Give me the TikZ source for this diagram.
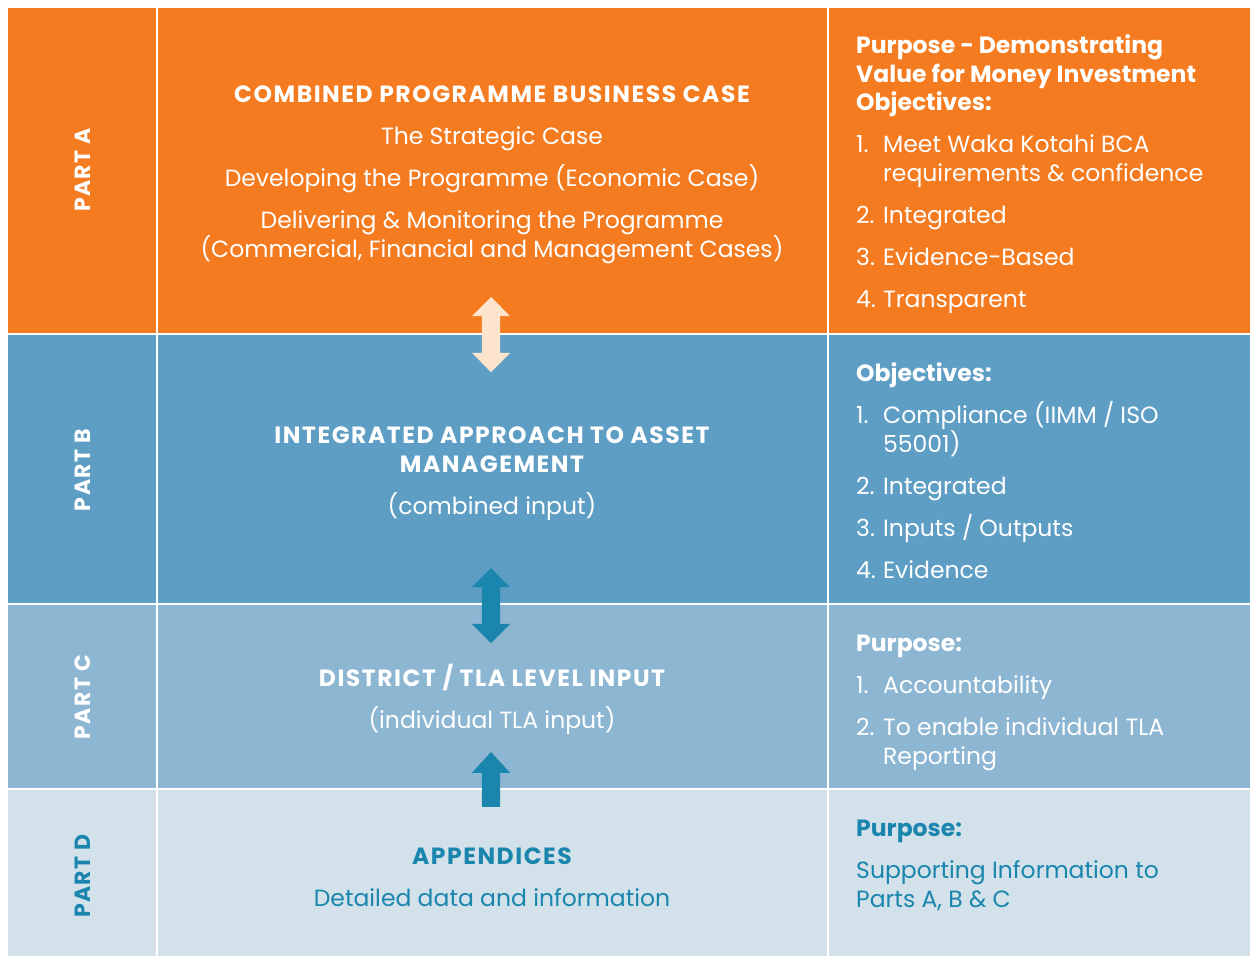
\documentclass[tikz,border=0pt]{standalone}
\usepackage{fontspec}
\setmainfont{Poppins}
\newfontfamily\headfont{Poppins}[LetterSpace=6.5]
\usetikzlibrary{shapes.arrows}
\definecolor{caseorange}{HTML}{F47B20}
\definecolor{partbblue}{HTML}{5E9EC4}
\definecolor{partcblue}{HTML}{8DB6D2}
\definecolor{partdblue}{HTML}{D3E1EB}
\definecolor{arrowteal}{HTML}{1A86AD}
\definecolor{arrowpale}{HTML}{FDE4CD}
\newcommand\itm[2]{\makebox[27pt][l]{#1}#2}
\newcommand\hd[1]{{\headfont\bfseries #1}}
\begin{document}
\begin{tikzpicture}[x=1pt, y=-1pt,
   every node/.style = {inner sep=0pt, text=white, font=\fontsize{23.5}{28.5}\selectfont},
    partlabel/.style = {rotate=90, font=\fontsize{22}{24}\selectfont\headfont\bfseries},
      midtext/.style = {anchor=base, align=center},
     sidetext/.style = {anchor=base west, align=left},
       updown/.style = {double arrow, shape border rotate=90, inner sep=9pt, minimum width=38pt,
                        double arrow head extend=10pt, double arrow tip angle=90,
                        minimum height=75pt, fill=#1},
         upto/.style = {single arrow, shape border rotate=90, inner sep=9pt, minimum width=38pt,
                        single arrow head extend=10pt, single arrow tip angle=85,
                        minimum height=55pt, fill=#1}
                        ]
\useasboundingbox (0,0) rectangle (1250,956);
\fill[white] (0,0) rectangle (1250,956);
% rows
\fill[caseorange] (8,8) rectangle (1250,334);
\fill[partbblue] (8,334) rectangle (1250,604);
\fill[partcblue] (8,604) rectangle (1250,789);
\fill[partdblue] (8,789) rectangle (1250,956);
\draw[white, line width=2.5pt] (8,334) -- (1250,334) (8,604) -- (1250,604) (8,789) -- (1250,789);
\draw[white, line width=2.5pt] (157,8) -- (157,956) (828,8) -- (828,956);
% part labels
\node (parta)[partlabel] at (83,170) {PART A};
\node (partb)[partlabel] at (83,470) {PART B};
\node (partc)[partlabel] at (83,697) {PART C};
\node (partd)[partlabel, text=arrowteal] at (83,876) {PART D};
% middle column (placed at the baseline of the last line)
\node (casea)[midtext] at (492,257) {\hd{COMBINED PROGRAMME BUSINESS CASE}\\[13.5pt]
  The Strategic Case\\[13.5pt]
  Developing the Programme (Economic Case)\\[13.5pt]
  Delivering \& Monitoring the Programme\\
  (Commercial, Financial and Management Cases)};
\node (caseb)[midtext] at (492,514) {\hd{INTEGRATED APPROACH TO ASSET}\\
  \hd{MANAGEMENT}\\[13.5pt]
  (combined input)};
\node (casec)[midtext] at (492,728) {\hd{DISTRICT / TLA LEVEL INPUT}\\[13.5pt]
  (individual TLA input)};
\node (cased)[midtext, text=arrowteal] at (492,906) {\hd{APPENDICES}\\[13.5pt]
  Detailed data and information};
% right column
\node (aima)[sidetext] at (856,307) {\textbf{Purpose - Demonstrating}\\
  \textbf{Value for Money Investment}\\
  \textbf{Objectives:}\\[13.5pt]
  \itm{1.}{Meet Waka Kotahi BCA}\\
  \itm{}{requirements \& confidence}\\[13.5pt]
  \itm{2.}{Integrated}\\[13.5pt]
  \itm{3.}{Evidence-Based}\\[13.5pt]
  \itm{4.}{Transparent}};
\node (aimb)[sidetext] at (856,578) {\textbf{Objectives:}\\[13.5pt]
  \itm{1.}{Compliance (IIMM / ISO}\\
  \itm{}{55001)}\\[13.5pt]
  \itm{2.}{Integrated}\\[13.5pt]
  \itm{3.}{Inputs / Outputs}\\[13.5pt]
  \itm{4.}{Evidence}};
\node (aimc)[sidetext] at (856,764) {\textbf{Purpose:}\\[13.5pt]
  \itm{1.}{Accountability}\\[13.5pt]
  \itm{2.}{To enable individual TLA}\\
  \itm{}{Reporting}};
\node (aimd)[sidetext, text=arrowteal] at (856,907) {\textbf{Purpose:}\\[13.5pt]
  Supporting Information to\\
  Parts A, B \& C};
% arrows between the parts
\node (ab)[updown=arrowpale] at (491,334.5) {};
\node (bc)[updown=arrowteal] at (491,605.5) {};
\node (dc)[upto=arrowteal] at (491,784.5) {};
\end{tikzpicture}
\end{document}
